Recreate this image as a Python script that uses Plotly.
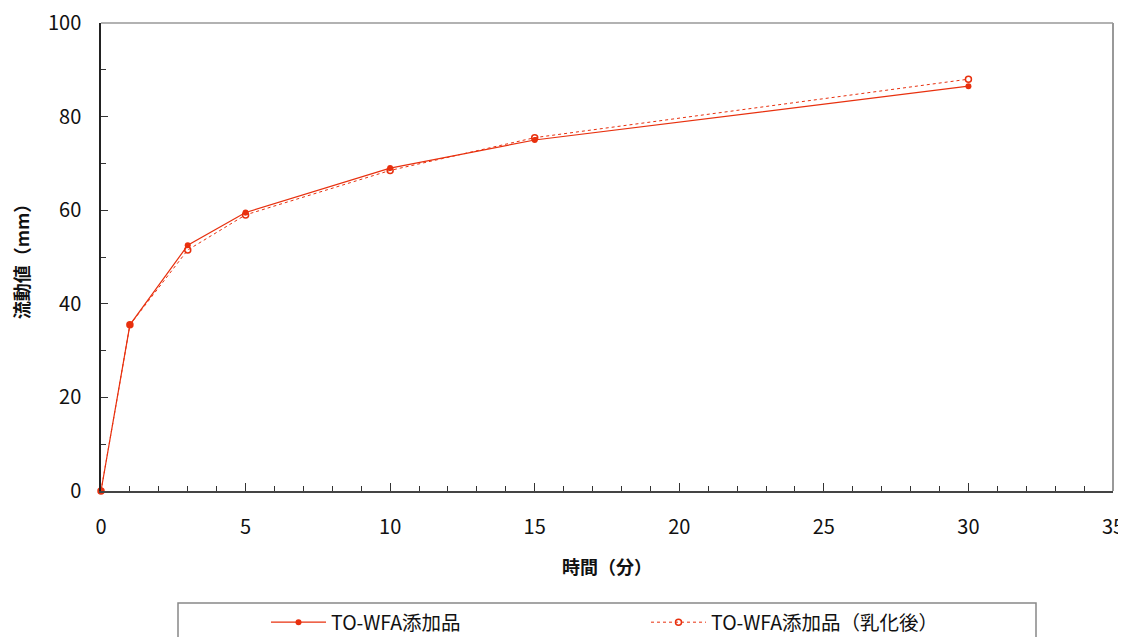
import plotly.graph_objects as go

time_min = [0, 1, 3, 5, 10, 15, 30]
flow_added = [0, 35.5, 52.5, 59.5, 69.0, 75.0, 86.5]
flow_emulsified = [0, 35.5, 51.5, 59.0, 68.5, 75.5, 88.0]
series_names = ["TO-WFA添加品", "TO-WFA添加品（乳化後）"]
x_title = "時間（分）"
y_title = "流動値（mm）"

RED = "#E8300E"
FONT = "Noto Sans CJK JP"

fig = go.Figure()
fig.add_trace(go.Scatter(
    x=time_min, y=flow_added, name=series_names[0], mode="lines+markers",
    line=dict(color=RED, width=1.2),
    marker=dict(symbol="circle", size=6, color=RED),
    cliponaxis=False,
))
fig.add_trace(go.Scatter(
    x=time_min, y=flow_emulsified, name=series_names[1], mode="lines+markers",
    line=dict(color=RED, width=1.0, dash="3px,3px"),
    marker=dict(symbol="circle-open", size=6, color=RED, line=dict(width=1.5, color=RED)),
    cliponaxis=False,
))

# page body has an 8px margin, so figure coords = screen coords - 8
OFF = 8
W, H = 1118, 629
L, T = 101 - OFF, 23 - OFF
R = W - (1113 - OFF)
B = H - (491 - OFF)
pw, ph = W - L - R, H - T - B

def px2x(p):
    return (p - OFF - L) / pw

def py2y(p):
    return (H - B - (p - OFF)) / ph

fig.update_layout(
    width=W, height=H,
    margin=dict(l=L, r=R, t=T, b=B, autoexpand=False),
    paper_bgcolor="white", plot_bgcolor="white",
    font=dict(family=FONT, color="#111", size=16),
    showlegend=True,
    legend=dict(
        orientation="h", x=px2x(266), xanchor="left", y=py2y(603), yanchor="top",
        bgcolor="rgba(0,0,0,0)", borderwidth=0,
        entrywidth=310, entrywidthmode="pixels", itemwidth=55,
        font=dict(family=FONT, size=19.5, color="#111"),
        traceorder="normal",
    ),
    shapes=[
        dict(type="line", xref="paper", yref="paper", x0=0, x1=1, y0=1, y1=1,
             line=dict(color="#999999", width=1.5)),
        dict(type="line", xref="paper", yref="paper", x0=1, x1=1, y0=0, y1=1,
             line=dict(color="#999999", width=2)),
        dict(type="rect", xref="paper", yref="paper",
             x0=px2x(178), x1=px2x(1036), y0=py2y(603), y1=py2y(680),
             line=dict(color="#888888", width=1.5), fillcolor="rgba(0,0,0,0)"),
    ],
)

fig.update_xaxes(
    range=[0, 35], tickmode="linear", tick0=0, dtick=5,
    showgrid=False, zeroline=False,
    showline=True, linecolor="#444444", linewidth=2,
    ticks="inside", ticklen=8, tickwidth=1.2, tickcolor="#333333",
    minor=dict(ticks="inside", dtick=1, ticklen=5, tickwidth=1, tickcolor="#333333", showgrid=False),
    ticklabelstandoff=17, ticklabeloverflow="allow",
    tickfont=dict(size=20, family=FONT, color="#111"),
    title=dict(text=x_title, font=dict(size=18, family=FONT, color="#111", weight="bold"), standoff=22),
)
fig.update_yaxes(
    range=[0, 100], tickmode="linear", tick0=0, dtick=20,
    showgrid=False, zeroline=False,
    showline=True, linecolor="#222222", linewidth=1.5,
    ticks="inside", ticklen=7, tickwidth=1.2, tickcolor="#333333",
    minor=dict(ticks="inside", dtick=10, ticklen=5, tickwidth=1, tickcolor="#333333", showgrid=False),
    ticklabelstandoff=14, ticklabeloverflow="allow",
    tickfont=dict(size=20, family=FONT, color="#111"),
    title=dict(text=y_title, font=dict(size=18, family=FONT, color="#111", weight="bold"), standoff=25),
)

fig.write_html("out.html")
